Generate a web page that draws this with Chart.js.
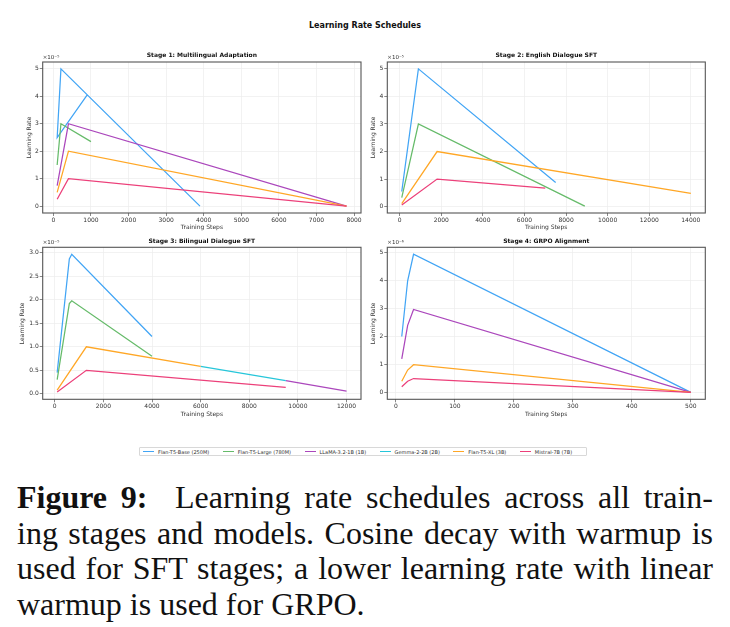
<!DOCTYPE html>
<html>
<head>
<meta charset="utf-8">
<script src="https://cdn.jsdelivr.net/npm/chart.js@4.4.1/dist/chart.umd.min.js"></script>
<style>
  body { margin: 0; background: #fff; width: 730px; height: 627px; position: relative; overflow: hidden; font-family: "DejaVu Sans", sans-serif; }
  .panel { position: absolute; width: 370px; height: 195px; }
  #title { position: absolute; top: 21px; left: 0; width: 730px; text-align: center; font: bold 8px "DejaVu Sans"; line-height: 10px; color: #111; }
  #legend { position: absolute; left: 139px; top: 447px; height: 9px; box-sizing: border-box; border: 0.7px solid #d8d8d8; border-radius: 1px; display: flex; align-items: center; padding-left: 3px; font: 5px "DejaVu Sans"; color: #333; }
  #legend .it { display: flex; align-items: center; margin-right: 13.5px; }
  #legend i { display: inline-block; width: 11px; height: 1.2px; margin-right: 4px; }
  #caption { position: absolute; left: 17px; top: 480px; width: 696px; font: 32px "Liberation Serif", serif; line-height: 35.5px; color: #111; }
  #caption .ln { text-align: justify; text-align-last: justify; }
  #caption .ln.last { text-align-last: left; }
</style>
</head>
<body>
<div id="title">Learning Rate Schedules</div>
<canvas id="s1" class="panel" width="370" height="195" style="left:0;top:40px"></canvas>
<canvas id="s2" class="panel" width="370" height="195" style="left:360px;top:40px"></canvas>
<canvas id="s3" class="panel" width="370" height="195" style="left:0;top:230px"></canvas>
<canvas id="s4" class="panel" width="370" height="195" style="left:360px;top:230px"></canvas>
<div id="legend"></div>
<div id="caption">
  <div class="ln"><b>Figure 9:</b>&nbsp; Learning rate schedules across all train-</div>
  <div class="ln">ing stages and models. Cosine decay with warmup is</div>
  <div class="ln">used for SFT stages; a lower learning rate with linear</div>
  <div class="ln last">warmup is used for GRPO.</div>
</div>
<script>
// models, in plotting order (later ones drawn on top)
const models = ['Flan-T5-Base (250M)', 'Flan-T5-Large (780M)', 'LLaMA-3.2-1B (1B)', 'Gemma-2-2B (2B)', 'Flan-T5-XL (3B)', 'Mistral-7B (7B)'];
const colors = ['#42A5F5', '#66BB6A', '#AB47BC', '#26C6DA', '#FFA726', '#EC407A'];

// Stage 1: Multilingual Adaptation (null = not visible)
const stage1Steps = [[900, 100, 200, 3900], [100, 200, 1000], [100, 400, 7800], null, [100, 400, 7800], [100, 400, 7800]];
const stage1LR = [[4.05e-5, 2.5e-5, 5.0e-5, 0], [1.5e-5, 3.0e-5, 2.35e-5], [0.75e-5, 3.0e-5, 0], null, [0.5e-5, 2.0e-5, 0], [0.25e-5, 1.0e-5, 0]];
const stage1XTicks = [0, 1000, 2000, 3000, 4000, 5000, 6000, 7000, 8000];
const stage1YTicks = [0, 1e-5, 2e-5, 3e-5, 4e-5, 5e-5];

// Stage 2: English Dialogue SFT
const stage2Steps = [[100, 900, 7500], [100, 900, 8900], null, null, [100, 1800, 14000], [100, 1800, 7000]];
const stage2LR = [[0.55e-5, 5.0e-5, 0.88e-5], [0.33e-5, 3.0e-5, 0.02e-5], null, null, [0.11e-5, 2.0e-5, 0.48e-5], [0.056e-5, 1.0e-5, 0.67e-5]];
const stage2XTicks = [0, 2000, 4000, 6000, 8000, 10000, 12000, 14000];
const stage2YTicks = [0, 1e-5, 2e-5, 3e-5, 4e-5, 5e-5];

// Stage 3: Bilingual Dialogue SFT (LLaMA and Gemma only visible past the orange line)
const stage3Steps = [[100, 600, 700, 4000], [100, 600, 700, 4000], [9500, 12000], [6000, 9500], [100, 1300, 6000], [100, 1300, 9500]];
const stage3LR = [[0.45e-5, 2.87e-5, 2.97e-5, 1.22e-5], [0.3e-5, 1.92e-5, 1.98e-5, 0.8e-5], [0.28e-5, 0.055e-5], [0.585e-5, 0.28e-5], [0.077e-5, 1.0e-5, 0.585e-5], [0.038e-5, 0.5e-5, 0.135e-5]];
const stage3XTicks = [0, 2000, 4000, 6000, 8000, 10000, 12000];
const stage3YTicks = [0, 0.5e-5, 1.0e-5, 1.5e-5, 2.0e-5, 2.5e-5, 3.0e-5];

// Stage 4: GRPO Alignment
const stage4Steps = [[10, 20, 30, 500], null, [10, 20, 30, 500], null, [10, 20, 30, 500], [10, 20, 30, 500]];
const stage4LR = [[2.0e-6, 4.0e-6, 4.95e-6, 0], null, [1.2e-6, 2.4e-6, 2.97e-6, 0], null, [0.4e-6, 0.8e-6, 0.99e-6, 0], [0.2e-6, 0.4e-6, 0.495e-6, 0]];
const stage4XTicks = [0, 100, 200, 300, 400, 500];
const stage4YTicks = [0, 1e-6, 2e-6, 3e-6, 4e-6, 5e-6];

const frame = {
  id: 'frame',
  afterDatasetsDraw(chart, args, opts) {
    const { ctx, chartArea: a } = chart;
    ctx.save();
    ctx.strokeStyle = '#555';
    ctx.lineWidth = 1.1;
    ctx.strokeRect(a.left, a.top, a.right - a.left, a.bottom - a.top);
    ctx.fillStyle = '#333';
    ctx.font = '5.5px "DejaVu Sans"';
    ctx.textBaseline = 'bottom';
    ctx.fillText(opts.exp, a.left, a.top - 2);
    ctx.restore();
  }
};

const tickFont = { size: 6, family: 'DejaVu Sans' };

function makeChart(id, title, steps, lr, x, y, g) {
  const datasets = [];
  steps.forEach((s, i) => {
    if (!s) return;
    datasets.push({
      label: models[i],
      data: s.map((v, k) => ({ x: v, y: lr[i][k] })),
      borderColor: colors[i],
      borderWidth: 1.25,
      pointRadius: 0,
      tension: 0,
      fill: false,
      order: -i
    });
  });
  new Chart(document.getElementById(id), {
    type: 'line',
    data: { datasets },
    plugins: [frame],
    options: {
      responsive: false,
      animation: false,
      layout: { padding: { top: g.padTop, right: g.padRight, left: 0, bottom: 0 } },
      scales: {
        x: {
          type: 'linear', min: x.min, max: x.max,
          afterBuildTicks: s => { s.ticks = x.ticks.map(v => ({ value: v })); },
          afterFit: s => { s.height = g.xHeight; },
          grid: { color: '#ececec', lineWidth: 0.7, tickColor: '#555', tickLength: 3 },
          border: { display: false },
          ticks: { padding: 1, color: '#333', font: tickFont, maxRotation: 0, autoSkip: false, callback: v => String(v) },
          title: { display: true, text: 'Training Steps', color: '#333', font: tickFont, padding: { top: 0, bottom: g.xTitlePad } }
        },
        y: {
          min: y.min, max: y.max,
          afterBuildTicks: s => { s.ticks = y.ticks.map(v => ({ value: v })); },
          afterFit: s => { s.width = g.yWidth; },
          grid: { color: '#ececec', lineWidth: 0.7, tickColor: '#555', tickLength: 3 },
          border: { display: false },
          ticks: { padding: 1, color: '#333', font: tickFont, autoSkip: false, callback: v => (v / y.unit).toFixed(y.dec) },
          title: { display: true, text: 'Learning Rate', color: '#333', font: tickFont, padding: { top: g.yTitlePad, bottom: 0 } }
        }
      },
      plugins: {
        legend: { display: false },
        tooltip: { enabled: false },
        title: { display: true, text: title, fullSize: false, color: '#111', font: { size: 6, weight: 'bold', family: 'DejaVu Sans' }, padding: { top: 0, bottom: g.titlePad } },
        frame: { exp: y.exp }
      }
    }
  });
}

const topLeft = { padTop: 11.7, titlePad: 3.1, padRight: 9, yWidth: 42.7, yTitlePad: 25.4, xHeight: 22, xTitlePad: 3.7 };
const topRight = { padTop: 11.7, titlePad: 3.1, padRight: 24.7, yWidth: 27.3, yTitlePad: 9.7, xHeight: 22, xTitlePad: 3.7 };
const botLeft = { padTop: 8.1, titlePad: 2.0, padRight: 9, yWidth: 42.7, yTitlePad: 19.1, xHeight: 25.7, xTitlePad: 7.4 };
const botRight = { padTop: 8.1, titlePad: 2.0, padRight: 24.7, yWidth: 27.3, yTitlePad: 9.7, xHeight: 25.7, xTitlePad: 7.4 };

makeChart('s1', 'Stage 1: Multilingual Adaptation', stage1Steps, stage1LR,
  { min: -285, max: 8185, ticks: stage1XTicks },
  { min: -0.25e-5, max: 5.25e-5, ticks: stage1YTicks, unit: 1e-5, dec: 0, exp: '×10⁻⁵' }, topLeft);
makeChart('s2', 'Stage 2: English Dialogue SFT', stage2Steps, stage2LR,
  { min: -595, max: 14695, ticks: stage2XTicks },
  { min: -0.23e-5, max: 5.25e-5, ticks: stage2YTicks, unit: 1e-5, dec: 0, exp: '×10⁻⁵' }, topRight);
makeChart('s3', 'Stage 3: Bilingual Dialogue SFT', stage3Steps, stage3LR,
  { min: -495, max: 12595, ticks: stage3XTicks },
  { min: -0.117e-5, max: 3.117e-5, ticks: stage3YTicks, unit: 1e-5, dec: 1, exp: '×10⁻⁵' }, botLeft);
makeChart('s4', 'Stage 4: GRPO Alignment', stage4Steps, stage4LR,
  { min: -14.5, max: 524.5, ticks: stage4XTicks },
  { min: -0.25e-6, max: 5.2e-6, ticks: stage4YTicks, unit: 1e-6, dec: 0, exp: '×10⁻⁶' }, botRight);

// shared legend
const legend = document.getElementById('legend');
models.forEach((m, i) => {
  const it = document.createElement('span');
  it.className = 'it';
  it.innerHTML = '<i style="background:' + colors[i] + '"></i>' + m;
  legend.appendChild(it);
});
</script>
</body>
</html>
